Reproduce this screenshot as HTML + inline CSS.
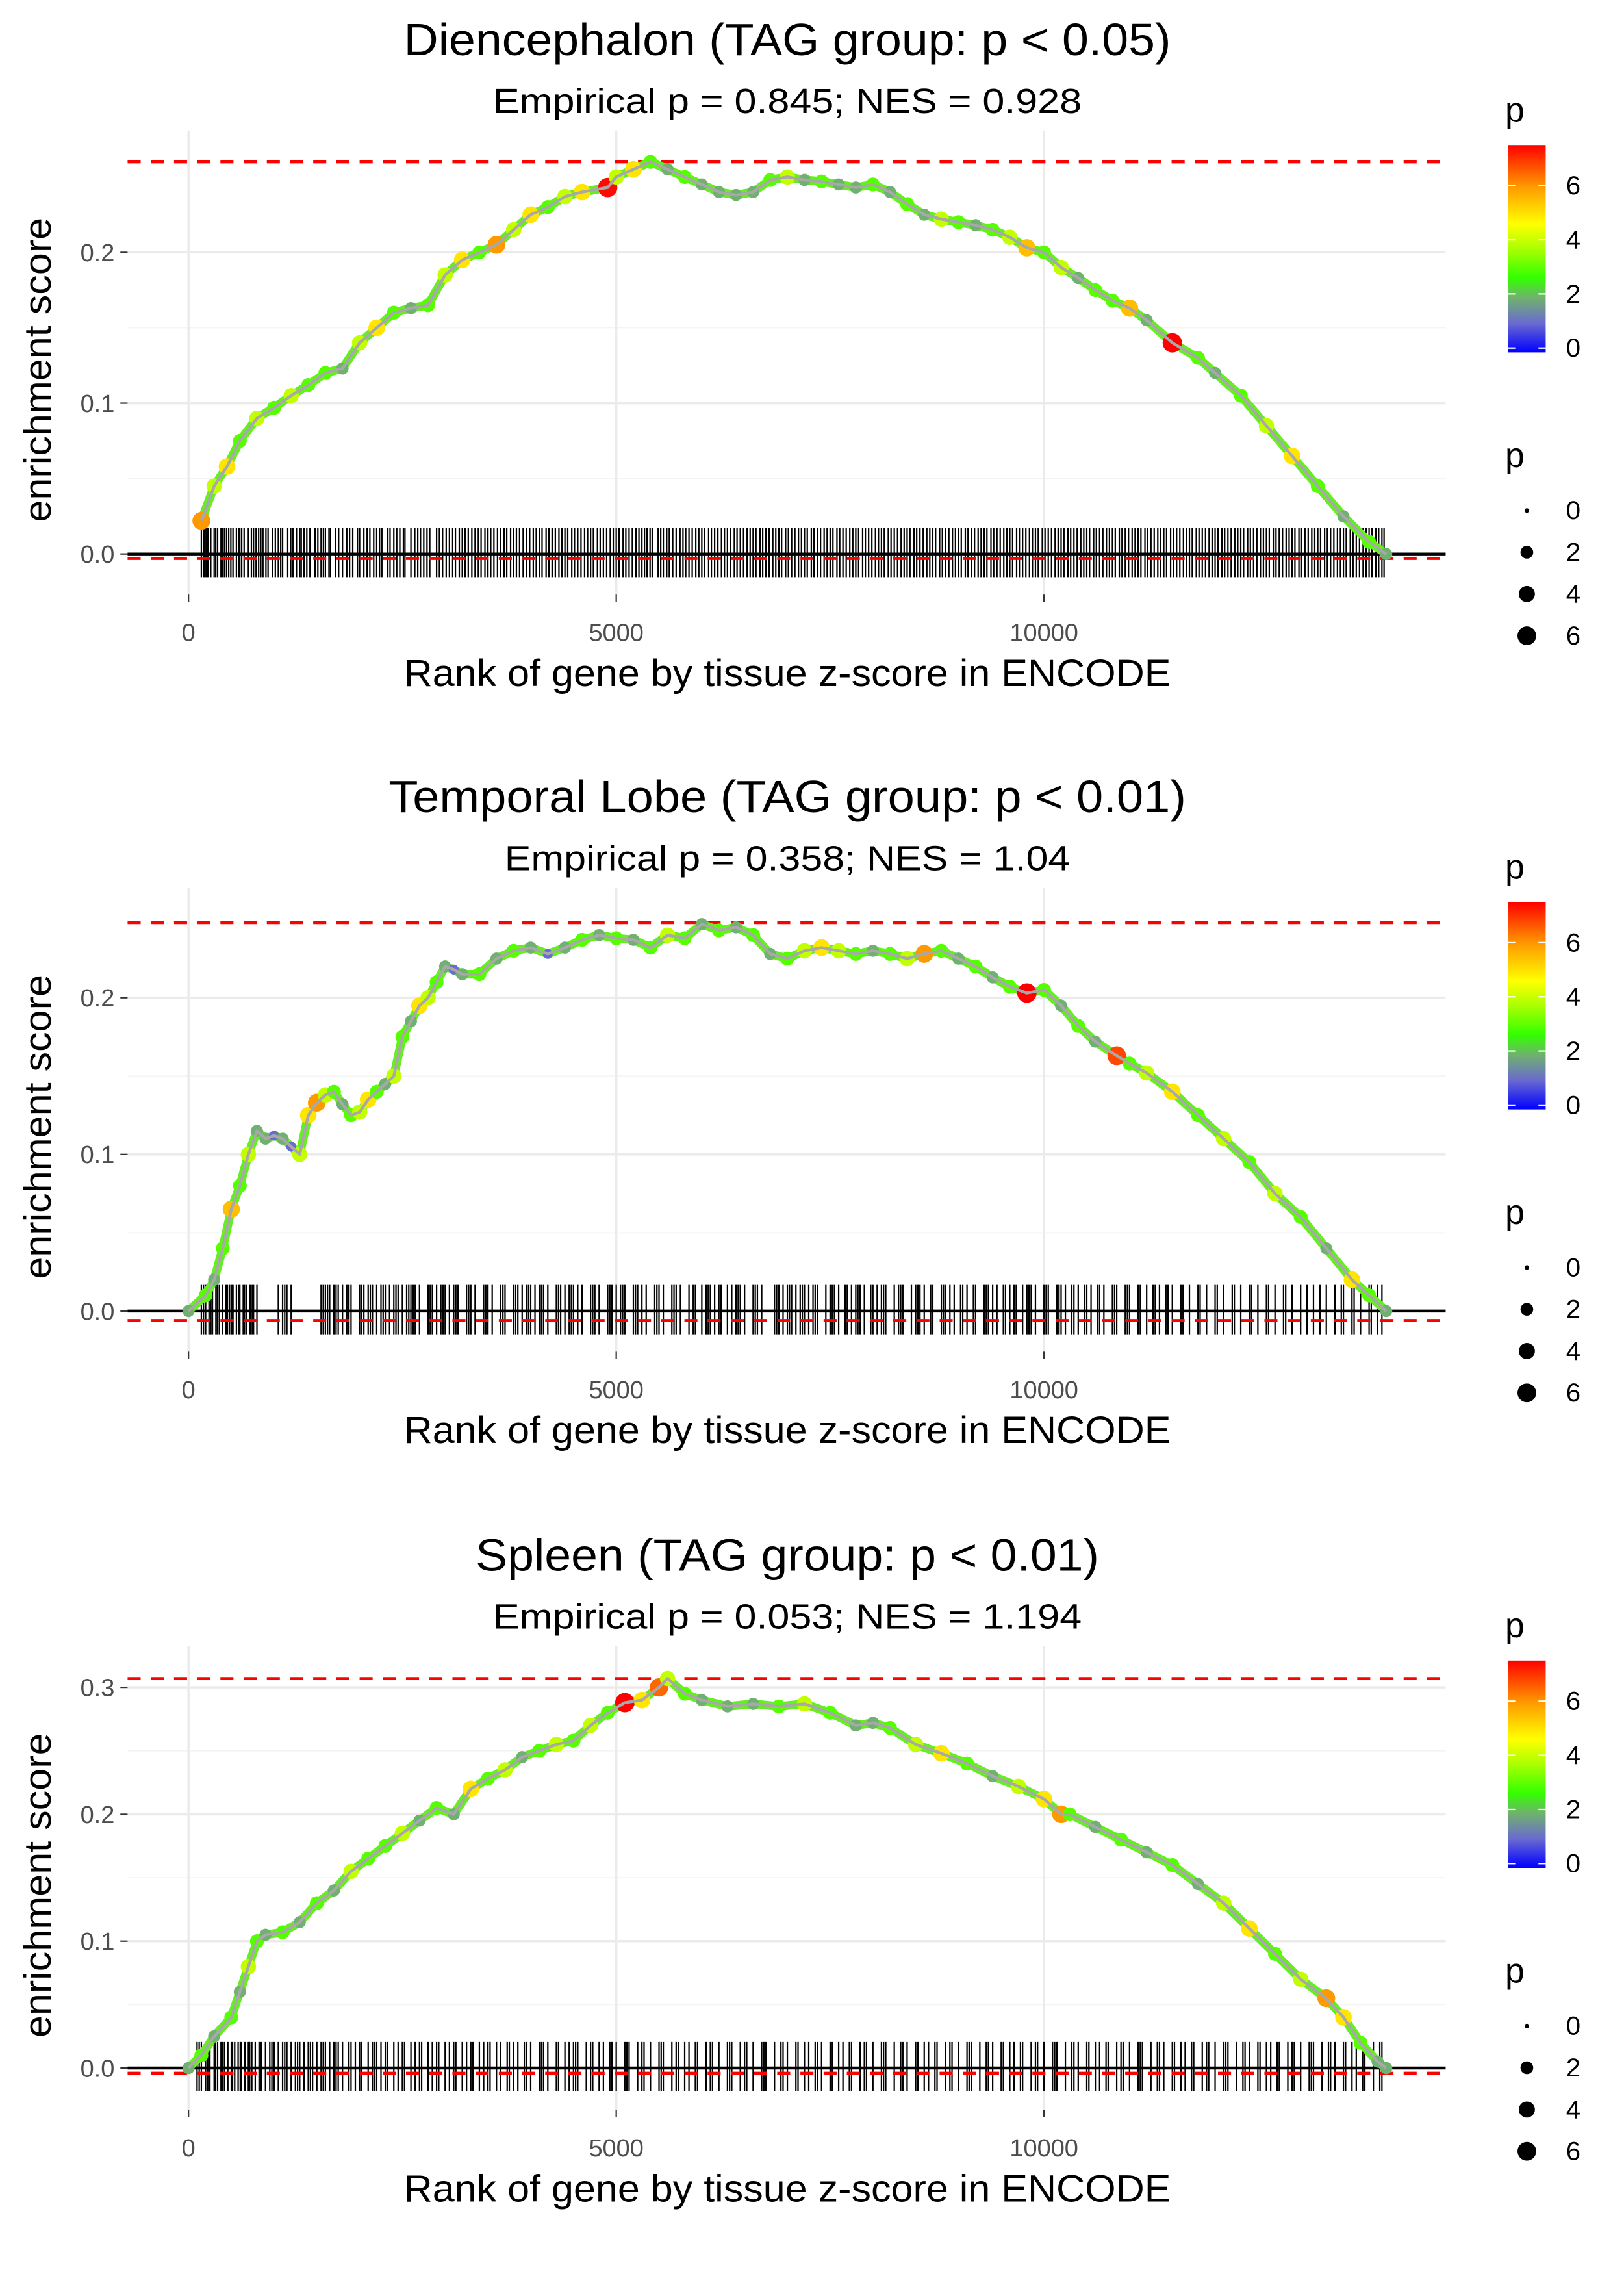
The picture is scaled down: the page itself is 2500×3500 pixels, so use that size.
<!DOCTYPE html>
<html><head><meta charset="utf-8"><style>
html,body{margin:0;padding:0;background:#fff}
svg{display:block}
text{font-family:"Liberation Sans",sans-serif}
</style></head><body>
<svg id="chart" width="2500" height="3500" viewBox="0 0 1120 1568" xmlns="http://www.w3.org/2000/svg">
<defs>
<linearGradient id="pgrad" x1="0" y1="1" x2="0" y2="0">
<stop offset="0" stop-color="#0000ff"/>
<stop offset="0.14" stop-color="#6a6ad0"/>
<stop offset="0.26" stop-color="#70b070"/>
<stop offset="0.36" stop-color="#33ff00"/>
<stop offset="0.5" stop-color="#aaff00"/>
<stop offset="0.62" stop-color="#ffff00"/>
<stop offset="0.8" stop-color="#ff9900"/>
<stop offset="1" stop-color="#ff0000"/>
</linearGradient>
</defs>
</svg>
<script>
// ---------- data ----------
const p1Ranks=[150,300,450,600,800,1000,1200,1400,1600,1800,2000,2200,2400,2600,2800,3000,3200,3400,3600,3800,4000,4200,4400,4600,4900,5000,5200,5400,5600,5800,6000,6200,6400,6600,6800,7000,7200,7400,7600,7800,8000,8200,8400,8600,8800,9000,9200,9400,9600,9800,10000,10200,10400,10600,10800,11000,11200,11500,11800,12000,12300,12600,12900,13200,13500,13800,14000];
const p1ES=[0.022,0.045,0.058,0.075,0.09,0.097,0.105,0.112,0.12,0.123,0.14,0.15,0.16,0.163,0.165,0.185,0.195,0.2,0.205,0.215,0.225,0.23,0.237,0.24,0.243,0.25,0.255,0.26,0.255,0.25,0.245,0.24,0.238,0.24,0.248,0.25,0.248,0.247,0.245,0.243,0.245,0.24,0.232,0.225,0.222,0.22,0.218,0.215,0.21,0.203,0.2,0.19,0.183,0.175,0.168,0.163,0.155,0.14,0.13,0.12,0.105,0.085,0.065,0.045,0.025,0.008,0.0];
const p1P=[6,4,5,3,4,3,4,3,3,2,4,5,3,2,3,4,5,3,6,4,5,3,4,5,7.4,4,5,3,2,3,2,2,2,2,3,4,2,3,2,2,3,2,3,2,4,3,2,3,4,5.5,3,4,2,3,3,5.5,2,7.5,3,2,3,4,5,3,2,3,2];
const p1Rug=[150,180,230,260,300,340,380,420,470,520,560,600,650,700,760,820,870,930,980,1050,1100,1160,1220,1300,1350,1420,1480,1550,1600,1660,1720,1800,1850,1920,2000,2050,2120,2200,2260,2330,2400,2470,2530,2600,2680,2750,2820,2900,2970,3050,3120,3200,3270,3350,3420,3500,3570,3650,3720,3800,3870,3950,4030,4100,4180,4250,4330,4400,4480,4550,4630,4700,4780,4850,4930,5000,5080,5150,5230,5300,5360,5420,5490,5550,5620,5660,5700,5780,5850,5930,6000,6080,6150,6230,6300,6380,6450,6530,6600,6680,6750,6830,6900,6980,7050,7130,7200,7280,7350,7430,7500,7580,7650,7730,7800,7880,7950,8030,8100,8180,8250,8330,8400,8480,8550,8630,8700,8780,8850,8930,9000,9080,9150,9230,9300,9380,9450,9530,9600,9680,9750,9830,9900,9980,10050,10130,10200,10280,10350,10430,10500,10580,10650,10730,10800,10880,10950,11030,11100,11180,11250,11330,11400,11480,11550,11630,11700,11780,11850,11930,12000,12080,12150,12230,12300,12380,12450,12530,12600,12680,12750,12830,12900,12980,13050,13130,13200,13280,13350,13430,13500,13580,13650,13730,13800,13880,13950,
 205,215,318,395,445,495,585,622,735,790,845,905,1015,1078,1195,1262,1318,1383,1512,1577,1642,1755,1883,1975,2088,2165,2233,2356,2434,2512,2645,2712,2788,2933,3012,3088,3165,3233,3312,3388,3465,3533,3612,3688,3765,3833,3912,3988,4065,4133,4212,4288,4365,4433,4512,4588,4665,4733,4812,4888,4965,5033,5112,5188,5265,5330,5395,5520,5590,5745,5812,5888,5965,6033,6112,6188,6265,6333,6412,6488,6565,6633,6712,6788,6865,6933,7012,7088,7165,7233,7312,7388,7465,7533,7612,7688,7765,7833,7912,7988,8065,8133,8212,8288,8365,8433,8512,8588,8665,8733,8812,8888,8965,9033,9112,9188,9265,9333,9412,9488,9565,9633,9712,9788,9865,9933,10012,10088,10165,10233,10312,10388,10465,10533,10612,10688,10765,10833,10912,10988,11065,11133,11212,11288,11365,11433,11512,11588,11665,11733,11812,11888,11965,12033,12112,12188,12265,12333,12412,12488,12565,12633,12712,12788,12865,12933,13012,13088,13165,13233,13312,13388,13465,13533,13612,13688,13765,13833,13912,13975];

const p2Ranks=[0,200,300,400,500,600,700,800,900,1000,1100,1200,1300,1400,1500,1600,1700,1800,1900,2000,2100,2200,2300,2400,2500,2600,2700,2800,2900,3000,3100,3200,3400,3600,3800,4000,4200,4400,4600,4800,5000,5200,5400,5600,5800,6000,6200,6400,6600,6800,7000,7200,7400,7600,7800,8000,8200,8400,8600,8800,9000,9200,9400,9600,9800,10000,10200,10400,10600,10850,11000,11200,11500,11800,12100,12400,12700,13000,13300,13600,13800,14000];
const p2ES=[0,0.01,0.02,0.04,0.065,0.08,0.1,0.115,0.11,0.112,0.11,0.105,0.1,0.125,0.133,0.138,0.14,0.132,0.125,0.127,0.135,0.14,0.145,0.15,0.175,0.185,0.195,0.2,0.21,0.22,0.218,0.215,0.215,0.225,0.23,0.232,0.228,0.232,0.237,0.24,0.238,0.237,0.232,0.24,0.238,0.247,0.243,0.245,0.24,0.228,0.225,0.23,0.232,0.23,0.228,0.23,0.228,0.225,0.228,0.23,0.225,0.22,0.213,0.207,0.203,0.205,0.195,0.182,0.172,0.163,0.158,0.152,0.14,0.125,0.11,0.095,0.075,0.06,0.04,0.02,0.01,0];
const p2P=[2,3,2,3,5.5,3,4,2,2,1,2,1,4,5,6,4,3,2,3,4,5,3,2,4,3,2,5,4,3,2,1,2,3,2,3,2,1,2,3,2,3,2,3,4,3,2,3,2,3,2,3,4,5,4,3,2,3,4,6,3,2,3,2,3,7.5,3,2,3,2,6.8,3,4,5,3,4,3,4,3,2,5,3,2];
const p2Rug=[150,200,240,280,320,360,400,440,480,520,560,600,640,680,720,760,800,1050,1100,1150,1200,1550,1600,1650,1700,1750,1800,1850,1900,2000,2050,2100,2150,2200,2250,2300,2350,2400,2450,2500,2550,2600,2650,2700,2800,2850,2900,2950,3000,3050,3100,3150,3250,3300,3350,3450,3500,3550,3650,3700,3800,3850,3900,3950,4000,4050,4100,4150,4200,4300,4350,4400,4450,4500,4550,4600,4700,4750,4800,4900,4950,5000,5050,5100,5200,5250,5300,5350,5450,5500,5550,5650,5700,5750,5850,5900,6000,6050,6100,6150,6200,6300,6350,6400,6450,6500,6600,6650,6700,6850,6900,6950,7000,7050,7100,7150,7200,7250,7300,7350,7450,7500,7550,7600,7700,7750,7800,7850,7900,8000,8050,8100,8150,8250,8300,8350,8450,8500,8550,8600,8700,8800,8850,8900,8950,9050,9100,9200,9300,9350,9400,9450,9550,9600,9650,9750,9800,9850,9900,10000,10050,10150,10200,10250,10350,10400,10500,10550,10650,10700,10800,10850,10950,11000,11100,11200,11300,11350,11450,11500,11600,11700,11800,11900,12000,12100,12200,12300,12400,12500,12600,12700,12800,12900,13000,13150,13300,13400,13500,13600,13700,13800,13900,
 175,262,338,455,505,585,655,745,1125,1575,1625,1725,1875,2025,2125,2275,2425,2575,2625,2825,2975,3125,3275,3475,3675,3825,3975,4125,4325,4475,4725,4925,5075,5225,5475,5675,5925,6075,6225,6425,6625,6875,7025,7175,7325,7525,7675,7825,7975,8125,8325,8525,8675,8825,9025,9175,9325,9525,9675,9825,10025,10175,10325,10475,10625,10825,10975,11125,11275,11425,11625,11825,12025,12225,12425,12625,12825,13075,13225,13475,13625,13825,13950];

const p3Ranks=[0,150,300,500,600,700,800,900,1100,1300,1500,1700,1900,2100,2300,2500,2700,2900,3100,3300,3500,3700,3900,4100,4300,4500,4700,4900,5100,5300,5500,5600,5800,6000,6300,6600,6900,7200,7500,7800,8000,8200,8500,8800,9100,9400,9700,10000,10200,10300,10600,10900,11200,11500,11800,12100,12400,12700,13000,13300,13500,13700,13900,14000];
const p3ES=[0,0.01,0.025,0.04,0.06,0.08,0.1,0.105,0.107,0.115,0.13,0.14,0.155,0.165,0.175,0.185,0.195,0.205,0.2,0.22,0.228,0.235,0.245,0.25,0.255,0.258,0.27,0.28,0.288,0.29,0.3,0.307,0.295,0.29,0.285,0.287,0.285,0.287,0.28,0.27,0.272,0.268,0.255,0.248,0.24,0.23,0.222,0.212,0.2,0.2,0.19,0.18,0.17,0.16,0.145,0.13,0.11,0.09,0.07,0.055,0.04,0.02,0.005,0];
const p3P=[2,3,2,3,2,4,3,2,3,2,3,2,4,3,3,4,2,3,2,5,3,4,2,3,4,3,4,3,7.5,5,6.5,4,3,2,2,2,3,4,3,2,2,3,4,5,3,2,4,5,6,3,2,3,2,3,2,4,5,3,4,6,5,3,2,2];
const p3Rug=[100,150,200,250,300,340,380,420,460,500,540,580,620,660,700,740,780,850,900,950,1000,1050,1100,1150,1200,1250,1300,1350,1400,1450,1500,1550,1600,1650,1700,1750,1800,1900,1950,2000,2100,2150,2200,2250,2300,2400,2450,2500,2600,2650,2700,2800,2850,2900,3000,3050,3100,3200,3250,3300,3400,3450,3500,3600,3650,3750,3800,3850,3950,4000,4100,4150,4200,4300,4400,4450,4500,4550,4650,4700,4800,4850,4950,5000,5100,5150,5250,5300,5400,5500,5550,5650,5700,5800,5850,5950,6050,6100,6200,6300,6350,6450,6500,6600,6700,6750,6850,6950,7000,7100,7200,7250,7350,7400,7500,7600,7650,7750,7850,7900,8000,8100,8150,8250,8350,8400,8500,8600,8650,8750,8850,8900,9000,9100,9150,9250,9350,9400,9500,9600,9650,9750,9850,9900,10000,10100,10150,10250,10350,10400,10500,10600,10650,10750,10850,10900,11000,11100,11150,11250,11350,11400,11500,11600,11650,11750,11850,11900,12000,12100,12150,12250,12350,12400,12500,12600,12650,12750,12850,12900,13000,13100,13150,13250,13350,13400,13500,13600,13650,13750,13850,13950,
 125,225,315,395,515,605,715,825,975,1125,1275,1425,1575,1725,1875,2025,2175,2325,2525,2725,2925,3125,3325,3525,3725,3925,4125,4325,4525,4725,4925,5125,5325,5525,5725,5925,6125,6325,6525,6725,6925,7125,7325,7525,7725,7925,8125,8325,8525,8725,8925,9125,9325,9525,9725,9925,10125,10325,10525,10725,10925,11125,11325,11525,11725,11925,12125,12325,12525,12725,12925,13125,13325,13525,13725,13925];

const p1Ticks=[0,0.1,0.2];
const p2Ticks=[0,0.1,0.2];
const p3Ticks=[0,0.1,0.2,0.3];
const xTicks=[0,5000,10000];
const xTickLabels=["0","5000","10000"];
const legendTicks=[0,2,4,6];
const titles=["Diencephalon (TAG group: p < 0.05)","Temporal Lobe (TAG group: p < 0.01)","Spleen (TAG group: p < 0.01)"];
const subtitles=["Empirical p = 0.845; NES = 0.928","Empirical p = 0.358; NES = 1.04","Empirical p = 0.053; NES = 1.194"];
const maxES=[0.26,0.248,0.307];
const minES=[-0.003,-0.006,-0.004];

// ---------- drawing ----------
const NS="http://www.w3.org/2000/svg";
const svg=document.getElementById('chart');
function mk(tag,attrs,parent){const e=document.createElementNS(NS,tag);for(const k in attrs)e.setAttribute(k,attrs[k]);(parent||svg).appendChild(e);return e;}
const stops=[[0,[0,0,255]],[1,[106,106,208]],[2,[112,176,112]],[2.7,[51,255,0]],[3.75,[170,255,0]],[4.65,[255,255,0]],[6,[255,153,0]],[7.5,[255,0,0]]];
function pColor(p){if(p<=0)return 'rgb(0,0,255)';for(let i=1;i<stops.length;i++){if(p<=stops[i][0]){const a=stops[i-1],b=stops[i];const t=(p-a[0])/(b[0]-a[0]);const c=a[1].map((v,j)=>Math.round(v+(b[1][j]-v)*t));return `rgb(${c})`;}}return 'rgb(255,0,0)';}
function pRadius(p){return 1.5+5.2*Math.sqrt(Math.max(p,0)/7.5);}
const xScale=r=>130+r*295/5000;
const titleLens=[529,550,430];
const subLens=[406,390,406];

const panels=[
 {ranks:p1Ranks,es:p1ES,p:p1P,rug:p1Rug,ticks:p1Ticks,zero:382,per:1040,off:0},
 {ranks:p2Ranks,es:p2ES,p:p2P,rug:p2Rug,ticks:p2Ticks,zero:904,per:1080,off:522},
 {ranks:p3Ranks,es:p3ES,p:p3P,rug:p3Rug,ticks:p3Ticks,zero:1426,per:875,off:1045}
];
panels.forEach((pn,i)=>{
 const g=mk('g',{});
 
 
 const y=v=>pn.zero-v*pn.per;
 const o=pn.off;
 const t=mk('text',{x:543,y:o+38,'text-anchor':'middle','font-size':31,textLength:titleLens[i],lengthAdjust:'spacingAndGlyphs',fill:'#000'},g);t.textContent=titles[i];
 
 const st=mk('text',{x:543,y:o+78,'text-anchor':'middle','font-size':24,textLength:subLens[i],lengthAdjust:'spacingAndGlyphs',fill:'#000'},g);st.textContent=subtitles[i];
 
 const top=o+90,bot=o+410;
 pn.ticks.forEach(v=>{const l=mk('line',{x1:88,x2:997,y1:y(v),y2:y(v),stroke:'#ebebeb','stroke-width':1.6},g);
  });
 pn.ticks.slice(0,-1).forEach((v,k)=>{const m=(v+pn.ticks[k+1])/2;mk('line',{x1:88,x2:997,y1:y(m),y2:y(m),stroke:'#f4f4f4','stroke-width':0.8},g);});
 xTicks.forEach(v=>{const l=mk('line',{x1:xScale(v),x2:xScale(v),y1:top,y2:bot,stroke:'#ebebeb','stroke-width':1.6},g);
  });
 pn.ticks.forEach(v=>{mk('line',{x1:83,x2:88,y1:y(v),y2:y(v),stroke:'#333','stroke-width':1},g);
  const tl=mk('text',{x:79,y:y(v)+6,'text-anchor':'end','font-size':17,fill:'#4d4d4d'},g);tl.textContent=v.toFixed(1);
  });
 xTicks.forEach((v,k)=>{mk('line',{x1:xScale(v),x2:xScale(v),y1:bot,y2:bot+5,stroke:'#333','stroke-width':1},g);
  const tl=mk('text',{x:xScale(v),y:o+442,'text-anchor':'middle','font-size':17,fill:'#4d4d4d'},g);tl.textContent=xTickLabels[k];
  });
 const xt=mk('text',{x:543,y:o+473,'text-anchor':'middle','font-size':26,textLength:529,lengthAdjust:'spacingAndGlyphs',fill:'#000'},g);xt.textContent='Rank of gene by tissue z-score in ENCODE';
 
 const yt=mk('text',{x:0,y:0,'text-anchor':'middle','font-size':26,textLength:210,lengthAdjust:'spacingAndGlyphs',fill:'#000',transform:`translate(35,${o+255}) rotate(-90)`},g);yt.textContent='enrichment score';
 
 pn.rug.forEach(r=>{const l=mk('line',{x1:xScale(r),x2:xScale(r),y1:pn.zero-18,y2:pn.zero+16,stroke:'#000','stroke-width':1},g);
  });
 const d1=mk('line',{x1:88,x2:997,y1:y(maxES[i]),y2:y(maxES[i]),stroke:'#ff0000','stroke-width':2,'stroke-dasharray':'9,7'},g);
 
 const d2=mk('line',{x1:88,x2:997,y1:y(minES[i]),y2:y(minES[i]),stroke:'#ff0000','stroke-width':2,'stroke-dasharray':'9,7'},g);
 
 const z=mk('line',{x1:88,x2:997,y1:y(0),y2:y(0),stroke:'#000','stroke-width':2},g);
 
 const pts=pn.ranks.map((r,k)=>xScale(r)+','+y(pn.es[k])).join(' ');
 const band=mk('polyline',{points:pts,fill:'none',stroke:'#66ee22','stroke-width':6,'stroke-linejoin':'round','stroke-linecap':'round'},g);
 
 pn.ranks.forEach((r,k)=>{const c=mk('circle',{cx:xScale(r),cy:y(pn.es[k]),r:pRadius(pn.p[k]),fill:pColor(pn.p[k])},g);
  });
 const line=mk('polyline',{points:pts,fill:'none',stroke:'#a8a8a8','stroke-width':2,'stroke-linejoin':'round'},g);
 
 const lg=mk('g',{},g);
 
 const lt=mk('text',{x:1038,y:o+84,'font-size':24,fill:'#000'},lg);lt.textContent='p';
 mk('rect',{x:1040,y:o+100,width:26,height:143,fill:'url(#pgrad)'},lg);
 const lv=v=>o+240-v*(140/7.5);
 legendTicks.forEach(v=>{mk('line',{x1:1040,x2:1045,y1:lv(v),y2:lv(v),stroke:'#fff','stroke-width':1},lg);
  mk('line',{x1:1061,x2:1066,y1:lv(v),y2:lv(v),stroke:'#fff','stroke-width':1},lg);
  const tl=mk('text',{x:1080,y:lv(v)+6,'font-size':18,fill:'#000'},lg);tl.textContent=String(v);});
 const sg=mk('g',{},g);
 
 const s1=mk('text',{x:1038,y:o+322,'font-size':24,fill:'#000'},sg);s1.textContent='p';
 legendTicks.forEach((v,k)=>{const yy=o+352+k*28.8;
  mk('circle',{cx:1053,cy:yy,r:pRadius(v)*1.05,fill:'#000'},sg);
  const tl=mk('text',{x:1080,y:yy+6,'font-size':18,fill:'#000'},sg);tl.textContent=String(v);});
});
</script>
</body></html>
